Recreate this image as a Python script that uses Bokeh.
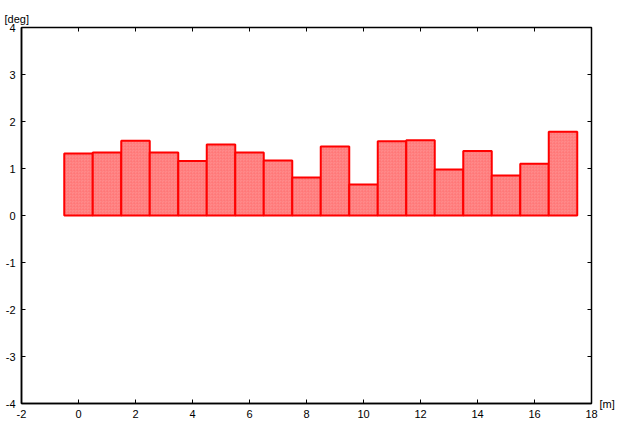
import math
from bokeh.plotting import figure
from bokeh.models import Range1d, LinearAxis, FixedTicker, CustomJSTickFormatter
from bokeh.embed import file_html
from bokeh.resources import INLINE

positions = list(range(18))
values = [1.32, 1.34, 1.59, 1.34, 1.16, 1.51, 1.34, 1.17, 0.81, 1.47,
          0.66, 1.58, 1.60, 0.98, 1.37, 0.85, 1.10, 1.78]
x_ticks = [-2, 0, 2, 4, 6, 8, 10, 12, 14, 16, 18]
y_ticks = [-4, -3, -2, -1, 0, 1, 2, 3, 4]
y_unit = "[deg]"
x_unit = "[m]"

FONT = "Liberation Sans"

p = figure(frame_width=570, frame_height=376, output_backend="svg", toolbar_location=None,
           x_range=Range1d(x_ticks[0], x_ticks[-1]), y_range=Range1d(y_ticks[0], y_ticks[-1]),
           min_border_left=21, min_border_right=26, min_border_top=27,
           min_border_bottom=22, x_axis_location=None, y_axis_location=None)
p.grid.visible = False
p.outline_line_color = "black"
p.outline_line_width = 1.5
p.background_fill_color = "white"
p.border_fill_color = "white"

p.title.text = y_unit
p.title.align = "left"
p.title.offset = -17
p.title.standoff = 6
p.title.text_font = FONT
p.title.text_font_size = "11px"
p.title.text_font_style = "normal"
p.title.text_color = "black"

p.vbar(x=positions, top=values, bottom=0, width=1.0,
       fill_color="#ff8a8a", line_color="#ff0000", line_width=2,
       hatch_pattern="criss_cross", hatch_color="#ff7070", hatch_scale=3,
       hatch_weight=0.6, hatch_alpha=0.6)

fmt = CustomJSTickFormatter(code="return String(tick);")

def make_axis(ticks, standoff):
    ax = LinearAxis(ticker=FixedTicker(ticks=ticks), formatter=fmt)
    ax.axis_line_color = "black"
    ax.axis_line_width = 1.5
    ax.major_tick_in = 4
    ax.major_tick_out = 0
    ax.major_tick_line_color = "black"
    ax.major_tick_line_width = 1
    ax.minor_tick_line_color = None
    ax.major_label_text_font = FONT
    ax.major_label_text_color = "black"
    ax.major_label_text_font_size = "11px"
    ax.major_label_standoff = standoff
    return ax

p.add_layout(make_axis(x_ticks, 6), "below")
p.add_layout(make_axis(y_ticks, 6), "left")

# unit label of the x axis, to the right of the frame's lower corner
unit_axis = LinearAxis(ticker=FixedTicker(ticks=[y_ticks[0]]),
                       major_label_overrides={y_ticks[0]: x_unit})
unit_axis.axis_line_color = None
unit_axis.major_tick_line_color = None
unit_axis.minor_tick_line_color = None
unit_axis.major_tick_in = 0
unit_axis.major_tick_out = 0
unit_axis.major_label_standoff = 8
unit_axis.major_label_text_font = FONT
unit_axis.major_label_text_font_size = "11px"
unit_axis.major_label_text_color = "black"
p.add_layout(unit_axis, "right")

# inward ticks on the top and right edges
p.ray(x=x_ticks, y=[y_ticks[-1]] * len(x_ticks), length=4, length_units="screen",
      angle=-math.pi / 2, line_color="black", line_width=1)
p.ray(x=[x_ticks[-1]] * len(y_ticks), y=y_ticks, length=4, length_units="screen",
      angle=math.pi, line_color="black", line_width=1)

open("out.html", "w").write(file_html(p, INLINE))
